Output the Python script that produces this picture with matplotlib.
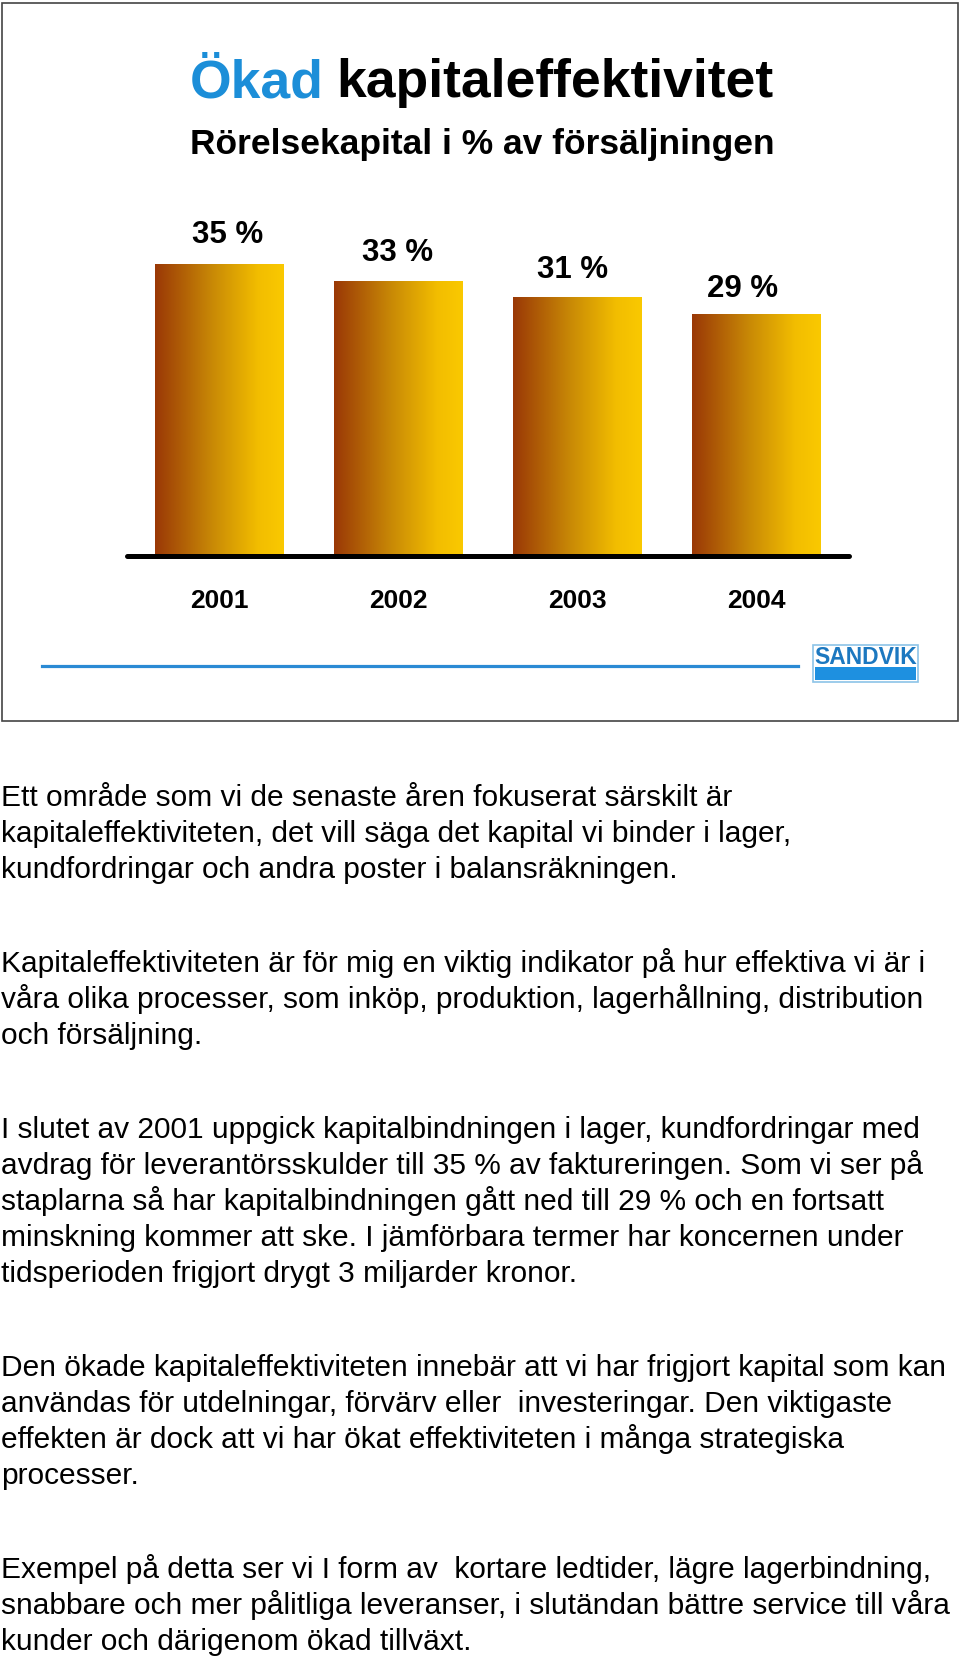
import numpy as np
import matplotlib
matplotlib.use("Agg")
import matplotlib.pyplot as plt
from matplotlib.colors import LinearSegmentedColormap
from matplotlib.patches import Rectangle
from matplotlib.lines import Line2D

# data
years = ["2001", "2002", "2003", "2004"]
share = [35, 33, 31, 29]
share_labels = ["35 %", "33 %", "31 %", "29 %"]

title_blue = "Ökad"
title_rest = "kapitaleffektivitet"
subtitle = "Rörelsekapital i % av försäljningen"

paragraphs = [
    ["Ett område som vi de senaste åren fokuserat särskilt är",
     "kapitaleffektiviteten, det vill säga det kapital vi binder i lager,",
     "kundfordringar och andra poster i balansräkningen."],
    ["Kapitaleffektiviteten är för mig en viktig indikator på hur effektiva vi är i",
     "våra olika processer, som inköp, produktion, lagerhållning, distribution",
     "och försäljning."],
    ["I slutet av 2001 uppgick kapitalbindningen i lager, kundfordringar med",
     "avdrag för leverantörsskulder till 35 % av faktureringen. Som vi ser på",
     "staplarna så har kapitalbindningen gått ned till 29 % och en fortsatt",
     "minskning kommer att ske. I jämförbara termer har koncernen under",
     "tidsperioden frigjort drygt 3 miljarder kronor."],
    ["Den ökade kapitaleffektiviteten innebär att vi har frigjort kapital som kan",
     "användas för utdelningar, förvärv eller  investeringar. Den viktigaste",
     "effekten är dock att vi har ökat effektiviteten i många strategiska",
     "processer."],
    ["Exempel på detta ser vi I form av  kortare ledtider, lägre lagerbindning,",
     "snabbare och mer pålitliga leveranser, i slutändan bättre service till våra",
     "kunder och därigenom ökad tillväxt."],
]

plt.rcParams['font.family'] = ['Liberation Sans', 'DejaVu Sans']

W, H = 960, 1664
BLUE = "#1c8ed8"


def fx(px):
    return px / W


def fy(py):
    return 1 - py / H


fig = plt.figure(figsize=(W / 100, H / 100), dpi=100)

# frame around the slide
fig.add_artist(Rectangle((fx(2), fy(721)), fx(956), (721 - 3) / H,
                         transform=fig.transFigure, fill=False,
                         edgecolor="#444444", linewidth=1.2))

# titles
fig.text(fx(190), fy(97), title_blue, color=BLUE, fontsize=38.5,
         fontweight="bold", ha="left", va="baseline")
fig.text(fx(336), fy(97), title_rest, color="black", fontsize=38.5,
         fontweight="bold", ha="left", va="baseline")
fig.text(fx(482), fy(154), subtitle, color="black", fontsize=25.5,
         fontweight="bold", ha="center", va="baseline")

# bar chart
ax = fig.add_axes([fx(127), fy(556), (849 - 127) / W, 333.7 / H])
x = np.arange(len(share))
bars = ax.bar(x, share, width=0.715, facecolor="none", edgecolor="none")

cmap = LinearSegmentedColormap.from_list(
    "bar", [(0.0, "#9a3806"), (0.45, "#c98a06"), (0.8, "#f2bd00"), (1.0, "#fac900")])
grad = np.linspace(0, 1, 256).reshape(1, -1)
for b in bars:
    x0, y0 = b.get_x(), b.get_y()
    im = ax.imshow(grad, extent=[x0, x0 + b.get_width(), y0, y0 + b.get_height()],
                   aspect="auto", cmap=cmap, zorder=2)
    im.set_clip_path(b)

ax.set_xlim(-0.514, 3.517)
ax.set_ylim(0, 40)

for s in ["top", "left", "right"]:
    ax.spines[s].set_visible(False)
ax.spines["bottom"].set_linewidth(3.6)
ax.spines["bottom"].set_capstyle("round")
ax.spines["bottom"].set_zorder(3)
ax.set_yticks([])
ax.set_xticks(x, years, fontsize=19, fontweight="bold")
ax.tick_params(axis="x", length=0, pad=24)

# value labels, small hand nudges as in the slide (points)
label_dx = [6.5, -0.7, -3.6, -10]
label_dy = [15, 14.5, 13.7, 12.3]
for xi, v, lab, dx, dy in zip(x, share, share_labels, label_dx, label_dy):
    ax.annotate(lab, (xi, v), xytext=(dx, dy), textcoords="offset points",
                ha="center", va="baseline", fontsize=22.5, fontweight="bold")

# blue rule and logo
fig.add_artist(Line2D([fx(42), fx(798)], [fy(666), fy(666)],
                      transform=fig.transFigure, color="#2a8ad4", linewidth=2.3))
fig.add_artist(Rectangle((fx(813), fy(682)), fx(105), 37 / H,
                         transform=fig.transFigure, facecolor="white",
                         edgecolor="#8cc4e8", linewidth=1.2))
fig.add_artist(Rectangle((fx(815), fy(680)), fx(101), 13 / H,
                         transform=fig.transFigure, facecolor="#1e90e0",
                         edgecolor="none"))
fig.text(fx(866), fy(664), "SANDVIK", color="#1c78c0", fontsize=16.5,
         fontweight="bold", ha="center", va="baseline")

# body text
line_h = 36
para_gap = 58
y = 806
for para in paragraphs:
    for line in para:
        fig.text(fx(1), fy(y), line, fontsize=21.5, color="black",
                 ha="left", va="baseline")
        y += line_h
    y += para_gap

fig.savefig("out.png", dpi=100)
